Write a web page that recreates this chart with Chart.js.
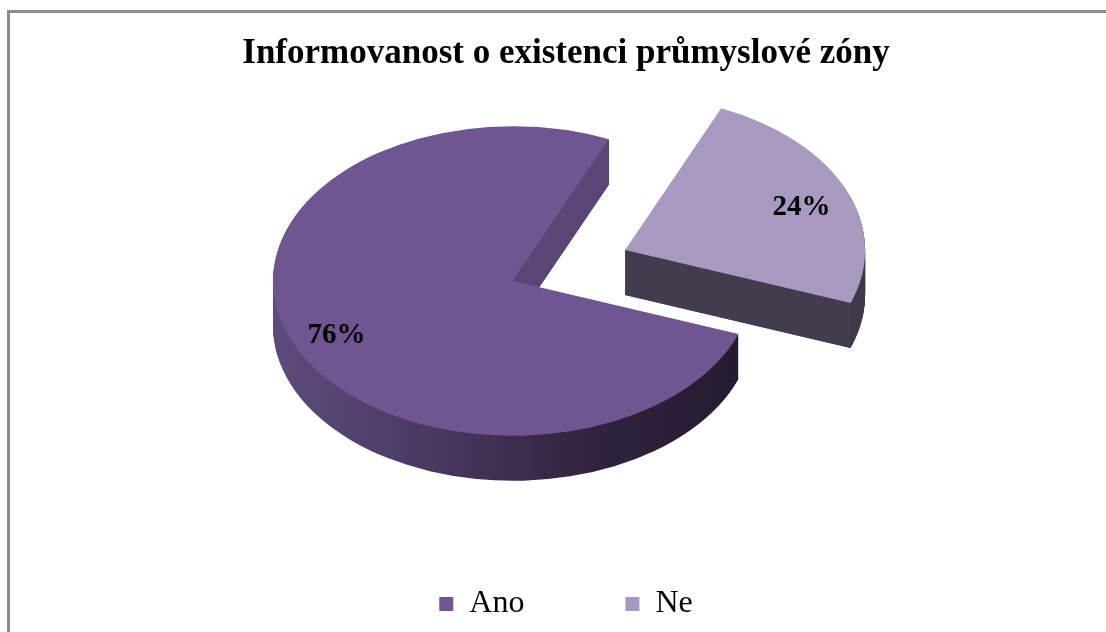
<!DOCTYPE html>
<html lang="cs">
<head>
    <meta charset="UTF-8">
    <title>Informovanost o existenci průmyslové zóny</title>
    <script src="https://cdn.jsdelivr.net/npm/chart.js@4.4.1/dist/chart.umd.min.js"></script>
    <style>
        html, body { margin: 0; padding: 0; background: #ffffff; }
        .ramecek {
            position: absolute;
            left: 7px;
            top: 10px;
            width: 1200px;
            height: 700px;
            border-top: 3px solid #8c8c8c;
            border-left: 3px solid #8c8c8c;
        }
        #graf { position: absolute; left: 0; top: 0; }
    </style>
</head>
<body>
    <div class="ramecek"></div>
    <canvas id="graf" width="1106" height="632"></canvas>

    <script>
        // data
        const kategorie = ["Ano", "Ne"];
        const hodnoty = [76, 24];
        const barvy = ["#6f5690", "#a899c0"];
        const barvyBoku = ["#5a4577", "#433c4e"];
        const vysunuti = [0, 122]; // vysunuti vysece (px)

        // vzhled 3D kolace
        const KOLAC = { cx: 513, cy: 281, zplosteni: 0.645, hloubka: 45, popisekY: 6 };

        const kolac3d = {
            id: "kolac3d",
            beforeDatasetDraw(chart, args) {
                const ctx = chart.ctx;
                const oblouky = args.meta.data;
                const k = KOLAC.zplosteni;
                const d = KOLAC.hloubka;

                // zadni vysece kreslit jako prvni
                const poradi = oblouky.map((a, i) => i).sort((a, b) => {
                    const ma = (oblouky[a].startAngle + oblouky[a].endAngle) / 2;
                    const mb = (oblouky[b].startAngle + oblouky[b].endAngle) / 2;
                    return Math.sin(ma) - Math.sin(mb);
                });

                poradi.forEach((i) => {
                    const arc = oblouky[i];
                    const { x, y, startAngle, endAngle, outerRadius } = arc.getProps(["x", "y", "startAngle", "endAngle", "outerRadius"]);
                    const stred = (startAngle + endAngle) / 2;
                    const ex = Math.cos(stred) * vysunuti[i];
                    const ey = Math.sin(stred) * vysunuti[i];
                    const naObraz = (px, py) => [KOLAC.cx + px + ex - x, KOLAC.cy + k * (py + ey - y)];

                    // bok (vytazeni dolu)
                    const bok = ctx.createLinearGradient(x - outerRadius, 0, x + outerRadius, 0);
                    if (i === 0) {
                        bok.addColorStop(0, "#5e4b7d");
                        bok.addColorStop(0.35, "#47385f");
                        bok.addColorStop(0.65, "#30243f");
                        bok.addColorStop(1, "#241a2e");
                    } else {
                        bok.addColorStop(0, "#453e51");
                        bok.addColorStop(1, "#3f3849");
                    }
                    for (let s = d; s >= 1; s--) {
                        ctx.save();
                        ctx.translate(KOLAC.cx, KOLAC.cy + s);
                        ctx.scale(1, k);
                        ctx.translate(ex - x, ey - y);
                        ctx.beginPath();
                        ctx.moveTo(x, y);
                        ctx.arc(x, y, outerRadius, startAngle, endAngle);
                        ctx.closePath();
                        ctx.fillStyle = bok;
                        ctx.fill();
                        ctx.restore();
                    }

                    // viditelne rezy
                    [[startAngle, -1], [endAngle, 1]].forEach(([uhel, smer]) => {
                        if (smer * Math.cos(uhel) <= 0) return;
                        const p0 = naObraz(x, y);
                        const p1 = naObraz(x + Math.cos(uhel) * outerRadius, y + Math.sin(uhel) * outerRadius);
                        ctx.beginPath();
                        ctx.moveTo(p0[0], p0[1]);
                        ctx.lineTo(p1[0], p1[1]);
                        ctx.lineTo(p1[0], p1[1] + d);
                        ctx.lineTo(p0[0], p0[1] + d);
                        ctx.closePath();
                        ctx.fillStyle = barvyBoku[i];
                        ctx.fill();
                    });

                    // horni plocha
                    ctx.save();
                    ctx.translate(KOLAC.cx, KOLAC.cy);
                    ctx.scale(1, k);
                    ctx.translate(ex - x, ey - y);
                    arc.draw(ctx);
                    ctx.restore();
                });

                // popisky procent
                const soucet = hodnoty.reduce((a, b) => a + b, 0);
                ctx.save();
                ctx.font = "bold 29px 'Liberation Serif', serif";
                ctx.fillStyle = "#000000";
                ctx.textAlign = "center";
                ctx.textBaseline = "middle";
                oblouky.forEach((arc, i) => {
                    const { startAngle, endAngle, outerRadius } = arc.getProps(["startAngle", "endAngle", "outerRadius"]);
                    const stred = (startAngle + endAngle) / 2;
                    const r = vysunuti[i] + outerRadius * 0.8;
                    const px = KOLAC.cx + Math.cos(stred) * r;
                    const py = KOLAC.cy + k * Math.sin(stred) * r + KOLAC.popisekY;
                    ctx.fillText(Math.round(hodnoty[i] / soucet * 100) + "%", px, py);
                });
                ctx.restore();
                return false;
            }
        };

        new Chart(document.getElementById("graf"), {
            type: "pie",
            data: {
                labels: kategorie,
                datasets: [{
                    data: hodnoty,
                    backgroundColor: barvy,
                    borderWidth: 0
                }]
            },
            options: {
                responsive: false,
                animation: false,
                rotation: 110,
                radius: 240,
                layout: { padding: { top: 15, left: 26, right: 0, bottom: 2 } },
                plugins: {
                    title: {
                        display: true,
                        text: "Informovanost o existenci průmyslové zóny",
                        color: "#000000",
                        font: { family: "'Liberation Serif', serif", size: 35, weight: "bold" },
                        padding: { top: 18, bottom: 10 }
                    },
                    legend: {
                        position: "bottom",
                        labels: {
                            color: "#000000",
                            boxWidth: 14,
                            boxHeight: 14,
                            padding: 101,
                            font: { family: "'Liberation Serif', serif", size: 32 }
                        }
                    },
                    tooltip: { enabled: false }
                }
            },
            plugins: [kolac3d]
        });
    </script>
</body>
</html>
